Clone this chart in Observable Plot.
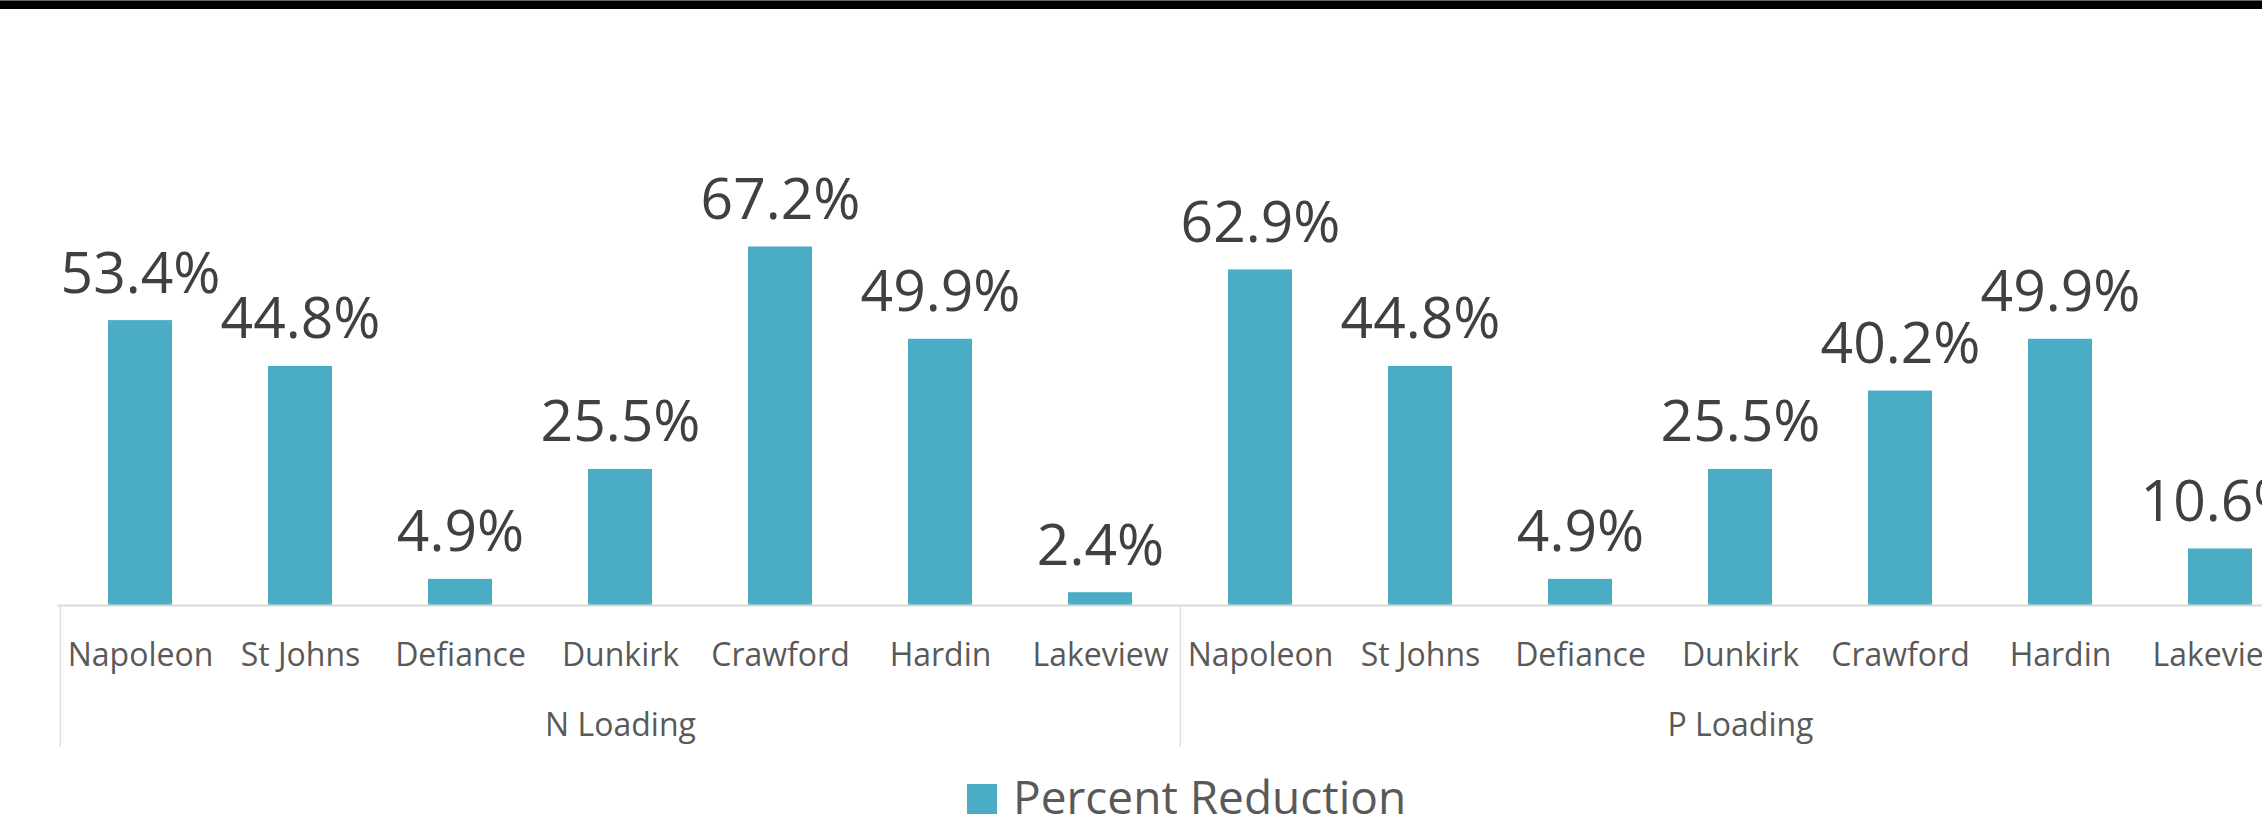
<!DOCTYPE html>
<html><head><meta charset="utf-8">
<script src="https://cdn.jsdelivr.net/npm/d3@7"></script>
<script src="https://cdn.jsdelivr.net/npm/@observablehq/plot@0.6"></script>
<style>
html,body{margin:0;padding:0;background:#fff;width:2262px;height:821px;overflow:hidden;}
#wrap{position:relative;width:2262px;height:821px;overflow:hidden;}
#band{position:absolute;left:0;top:0;width:2262px;height:8px;background:#000;border-top:1px solid #666;}
#chart{position:absolute;left:0;top:0;width:2310px;}
#legend{position:absolute;left:967px;top:776px;}
.lg-swatch > svg{margin-right:16px !important;position:relative;top:3px;}
.lg, .lg-swatch{font-family:'Open Sans',sans-serif !important;font-size:46px !important;color:#595959 !important;line-height:40px !important;}
</style></head>
<body><div id="wrap"><div id="chart"></div><div id="band"></div><div id="legend"></div></div>
<script>
const groups = ["N Loading", "P Loading"];
const sites = ["Napoleon", "St Johns", "Defiance", "Dunkirk", "Crawford", "Hardin", "Lakeview"];
const nLoading = [53.4, 44.8, 4.9, 25.5, 67.2, 49.9, 2.4];
const pLoading = [62.9, 44.8, 4.9, 25.5, 40.2, 49.9, 10.6];
const seriesName = "Percent Reduction";
const barColor = "#4bacc6";

const seriesByGroup = {"N Loading": nLoading, "P Loading": pLoading};
const rows = groups.flatMap(g => sites.map((s, i) => ({group: g, site: s, key: g + "|" + s, value: seriesByGroup[g][i]})));
const groupStarts = rows.filter(d => d.site === sites[0]);
const groupMids = rows.filter(d => d.site === sites[Math.floor(sites.length / 2)]);

const W = 2310, left = 57.3, right = 2302.3, baseY = 605;
const step = (right - left) / rows.length;

const chart = Plot.plot({
  width: W, height: 760,
  marginLeft: left, marginRight: W - right, marginTop: 0, marginBottom: 13,
  style: {fontFamily: "'Open Sans', sans-serif", background: "transparent", maxWidth: "none"},
  x: {domain: rows.map(d => d.key), paddingInner: 0.6, paddingOuter: 0.3, axis: null},
  y: {domain: [0, 80], range: [baseY, baseY - 80 * 5.335], axis: null},
  color: {domain: [seriesName], range: [barColor]},
  marks: [
    Plot.barY(rows, {x: "key", y: "value", fill: () => seriesName}),
    Plot.ruleY([0], {stroke: "#d9d9d9", strokeWidth: 2}),
    Plot.ruleX(groupStarts, {x: "key", insetTop: baseY, dx: -step / 2, stroke: "#d9d9d9", strokeWidth: 1.2}),
    Plot.text(rows, {x: "key", y: "value", text: d => d.value.toFixed(1) + "%", lineAnchor: "bottom", dy: -28, fontSize: 57, fill: "#404040"}),
    Plot.text(rows, {x: "key", y: () => 0, text: "site", dy: 50, fontSize: 32, fill: "#595959"}),
    Plot.text(groupMids, {x: "key", y: () => 0, text: "group", dy: 120, fontSize: 32, fill: "#595959"})
  ]
});
chart.style.maxWidth = "none";
document.getElementById("chart").appendChild(chart);

const legend = Plot.legend({
  color: {domain: [seriesName], range: [barColor]},
  legend: "swatches", swatchSize: 30, className: "lg"
});
document.getElementById("legend").appendChild(legend);
</script>
</body></html>
